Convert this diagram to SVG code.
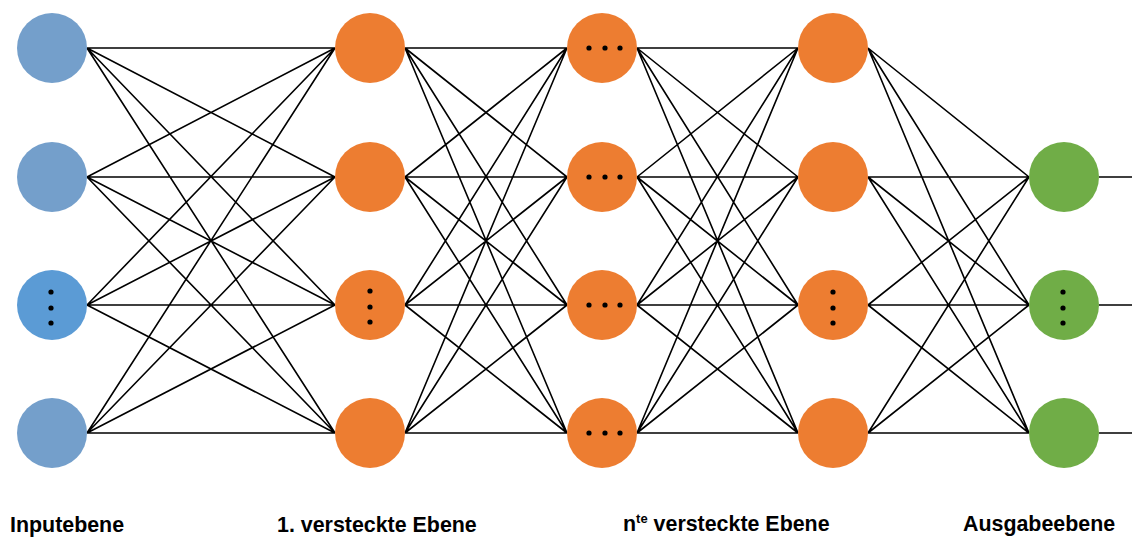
<svg xmlns="http://www.w3.org/2000/svg" width="1132" height="537" viewBox="0 0 1132 537">
<style>
.in{fill:#749fcb}.in2{fill:#5b9bd5}.hid{fill:#ed7d31}.out{fill:#70ad47}
.e{stroke:#000;stroke-width:1.6;fill:none}
.d{fill:#000}
.lbl{font-family:"Liberation Sans",Arial,sans-serif;font-weight:bold;font-size:21.4px;fill:#000}
</style>
<rect width="1132" height="537" fill="#fff"/>
<g id="connectors" class="e">
<path d="M87 48L335 48M87 48L335 177M87 48L335 305M87 48L335 433M87 177L335 48M87 177L335 177M87 177L335 305M87 177L335 433M87 305L335 48M87 305L335 177M87 305L335 305M87 305L335 433M87 433L335 48M87 433L335 177M87 433L335 305M87 433L335 433"/>
<path d="M405 48L567 48M405 48L567 177M405 48L567 305M405 48L567 433M405 177L567 48M405 177L567 177M405 177L567 305M405 177L567 433M405 305L567 48M405 305L567 177M405 305L567 305M405 305L567 433M405 433L567 48M405 433L567 177M405 433L567 305M405 433L567 433"/>
<path d="M637 48L798 48M637 48L798 177M637 48L798 305M637 48L798 433M637 177L798 48M637 177L798 177M637 177L798 305M637 177L798 433M637 305L798 48M637 305L798 177M637 305L798 305M637 305L798 433M637 433L798 48M637 433L798 177M637 433L798 305M637 433L798 433"/>
<path d="M868 48L1029 177M868 48L1029 305M868 48L1029 433M868 177L1029 177M868 177L1029 305M868 177L1029 433M868 305L1029 177M868 305L1029 305M868 305L1029 433M868 433L1029 177M868 433L1029 305M868 433L1029 433"/>
<path d="M1099 177L1132 177M1099 305L1132 305M1099 433L1132 433"/>
</g>
<g id="in1"><circle class="in" cx="52" cy="48" r="35"/></g>
<g id="in2"><circle class="in" cx="52" cy="177" r="35"/></g>
<g id="in3"><circle class="in2" cx="52" cy="305" r="35"/><circle class="d" cx="51" cy="292" r="2.6"/><circle class="d" cx="51" cy="308" r="2.6"/><circle class="d" cx="51" cy="323" r="2.6"/></g>
<g id="in4"><circle class="in" cx="52" cy="433" r="35"/></g>
<g id="h1a"><circle class="hid" cx="370" cy="48" r="35"/></g>
<g id="h1b"><circle class="hid" cx="370" cy="177" r="35"/></g>
<g id="h1c"><circle class="hid" cx="370" cy="305" r="35"/><circle class="d" cx="370" cy="291" r="2.6"/><circle class="d" cx="370" cy="307" r="2.6"/><circle class="d" cx="370" cy="322" r="2.6"/></g>
<g id="h1d"><circle class="hid" cx="370" cy="433" r="35"/></g>
<g id="hma"><circle class="hid" cx="602" cy="48" r="35"/><circle class="d" cx="589" cy="48" r="2.6"/><circle class="d" cx="605" cy="48" r="2.6"/><circle class="d" cx="620" cy="48" r="2.6"/></g>
<g id="hmb"><circle class="hid" cx="602" cy="177" r="35"/><circle class="d" cx="589" cy="177" r="2.6"/><circle class="d" cx="605" cy="177" r="2.6"/><circle class="d" cx="620" cy="177" r="2.6"/></g>
<g id="hmc"><circle class="hid" cx="602" cy="305" r="35"/><circle class="d" cx="589" cy="305" r="2.6"/><circle class="d" cx="605" cy="305" r="2.6"/><circle class="d" cx="620" cy="305" r="2.6"/></g>
<g id="hmd"><circle class="hid" cx="602" cy="433" r="35"/><circle class="d" cx="589" cy="433" r="2.6"/><circle class="d" cx="605" cy="433" r="2.6"/><circle class="d" cx="620" cy="433" r="2.6"/></g>
<g id="hna"><circle class="hid" cx="833" cy="48" r="35"/></g>
<g id="hnb"><circle class="hid" cx="833" cy="177" r="35"/></g>
<g id="hnc"><circle class="hid" cx="833" cy="305" r="35"/><circle class="d" cx="833" cy="292" r="2.6"/><circle class="d" cx="833" cy="308" r="2.6"/><circle class="d" cx="833" cy="323" r="2.6"/></g>
<g id="hnd"><circle class="hid" cx="833" cy="433" r="35"/></g>
<g id="o1"><circle class="out" cx="1064" cy="177" r="35"/></g>
<g id="o2"><circle class="out" cx="1064" cy="305" r="35"/><circle class="d" cx="1063" cy="292" r="2.6"/><circle class="d" cx="1063" cy="308" r="2.6"/><circle class="d" cx="1063" cy="323" r="2.6"/></g>
<g id="o3"><circle class="out" cx="1064" cy="433" r="35"/></g>
<g id="labels">
<text class="lbl" x="10" y="532">Inputebene</text>
<text class="lbl" x="277" y="532">1. versteckte Ebene</text>
<text class="lbl" x="623" y="531">n<tspan font-size="13px" dy="-8">te</tspan><tspan dy="8"> versteckte Ebene</tspan></text>
<text class="lbl" x="963" y="531">Ausgabeebene</text>
</g>
</svg>
